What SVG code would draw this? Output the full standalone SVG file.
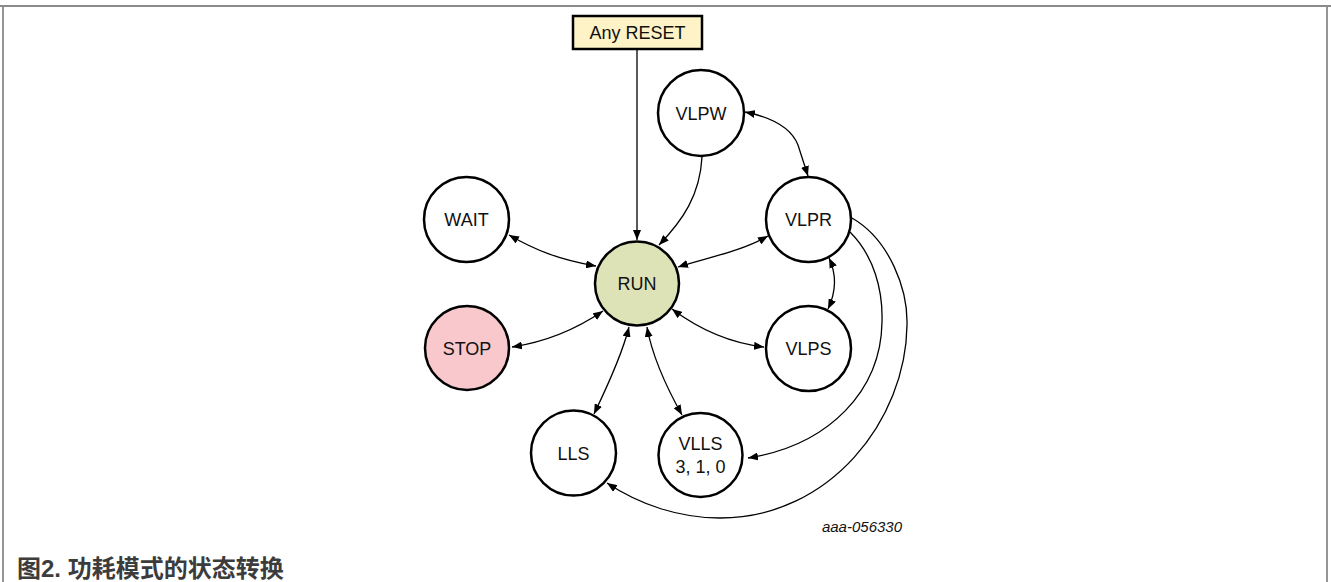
<svg xmlns="http://www.w3.org/2000/svg" width="1331" height="582" viewBox="0 0 1331 582">
  <style>
    .node { fill: #ffffff; stroke: #000000; stroke-width: 2.5; }
    .lbl { font-family: "Liberation Sans", Arial, sans-serif; font-size: 18px; fill: #111111; text-anchor: middle; }
    .conn path { fill: none; stroke: #000000; stroke-width: 1.3; }
    .frame { fill: none; stroke: #8a8a8a; stroke-width: 1.8; }
  </style>
  <defs>
    <marker id="ah" viewBox="0 0 10 8" refX="10" refY="4" markerWidth="10" markerHeight="8" markerUnits="userSpaceOnUse" orient="auto-start-reverse">
      <path d="M0,0 L10,4 L0,8 z" fill="#000000"/>
    </marker>
  </defs>

  <rect width="1331" height="582" fill="#ffffff"/>
  <!-- figure frame -->
  <path class="frame" d="M3,582 L3,6 L1327,6 L1327,582"/>
  <path class="frame" d="M0,6 L3,6 M1327,6 L1331,6"/>

  <!-- transitions -->
  <g id="connectors" class="conn">
    <path d="M637,49 L637,240" marker-end="url(#ah)"/>
    <path d="M702,157 C700,195 683,220 659,245" marker-end="url(#ah)"/>
    <path d="M745,112 C775,118 792,130 798,145 L808,176" marker-start="url(#ah)" marker-end="url(#ah)"/>
    <path d="M509,235 C535,250 560,260 596,266" marker-start="url(#ah)" marker-end="url(#ah)"/>
    <path d="M512,347 C545,342 575,330 603,311" marker-start="url(#ah)" marker-end="url(#ah)"/>
    <path d="M678,267 C705,258 740,252 768,236" marker-start="url(#ah)" marker-end="url(#ah)"/>
    <path d="M672,309 C700,330 730,343 764,347" marker-start="url(#ah)" marker-end="url(#ah)"/>
    <path d="M829,258 C837,275 836,292 828,309" marker-start="url(#ah)" marker-end="url(#ah)"/>
    <path d="M629,327 C622,355 608,385 594,414" marker-start="url(#ah)" marker-end="url(#ah)"/>
    <path d="M647,327 C652,355 668,390 682,415" marker-start="url(#ah)" marker-end="url(#ah)"/>
    <path d="M850,232 C874,256 883,290 882,322 C881,390 830,445 748,458" marker-end="url(#ah)"/>
    <path d="M852,218 C890,240 908,290 907,325 C906,420 830,518 720,518 C680,518 640,505 607,483" marker-end="url(#ah)"/>
  </g>

  <g id="node-reset">
    <rect x="573" y="16" width="129" height="33" fill="#fdf3c6" stroke="#000000" stroke-width="2.5"/>
    <text class="lbl" x="637.5" y="39">Any RESET</text>
  </g>
  <g id="node-run">
    <circle class="node" cx="637" cy="283.5" r="42" style="fill:#dde3b7"/>
    <text class="lbl" x="637" y="290">RUN</text>
  </g>
  <g id="node-wait">
    <circle class="node" cx="466.5" cy="219.5" r="42.5"/>
    <text class="lbl" x="466.5" y="226">WAIT</text>
  </g>
  <g id="node-stop">
    <circle class="node" cx="467" cy="348" r="42" style="fill:#f8c8cd"/>
    <text class="lbl" x="467" y="354.5">STOP</text>
  </g>
  <g id="node-vlpw">
    <circle class="node" cx="701" cy="113" r="43"/>
    <text class="lbl" x="701" y="119.5">VLPW</text>
  </g>
  <g id="node-vlpr">
    <circle class="node" cx="808.5" cy="219.5" r="42.5"/>
    <text class="lbl" x="808.5" y="226">VLPR</text>
  </g>
  <g id="node-vlps">
    <circle class="node" cx="808.5" cy="348.5" r="42.5"/>
    <text class="lbl" x="808.5" y="355">VLPS</text>
  </g>
  <g id="node-lls">
    <circle class="node" cx="573.5" cy="453" r="42.5"/>
    <text class="lbl" x="573.5" y="459.5">LLS</text>
  </g>
  <g id="node-vlls">
    <circle class="node" cx="700.5" cy="455" r="42"/>
    <text class="lbl" x="700.5" y="450">VLLS</text>
    <text class="lbl" x="700.5" y="473">3, 1, 0</text>
  </g>

  <text x="902" y="532" font-family="'Liberation Sans', Arial, sans-serif" font-size="15" font-style="italic" fill="#111111" text-anchor="end">aaa-056330</text>

  <text x="17" y="577" font-family="'Liberation Sans', 'Noto Sans CJK SC', sans-serif" font-size="24" font-weight="bold" fill="#3c3c3c">图2. 功耗模式的状态转换</text>
</svg>
